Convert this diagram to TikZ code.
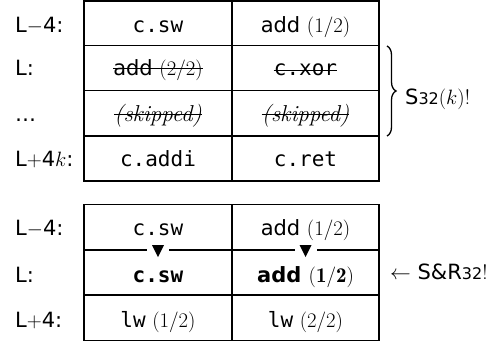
\documentclass[tikz,border=0pt]{standalone}
\usepackage{fontspec}
\newfontfamily\sansf{DejaVu Sans}
\setmonofont{DejaVu Sans Mono}
\usetikzlibrary{decorations.pathreplacing}
\newcommand\sz{\fontsize{21}{25}\selectfont}
\newcommand\smallnum[1]{{\fontsize{16}{20}\selectfont #1}}
\begin{document}
\begin{tikzpicture}[x=1pt,y=-1pt,
  grid/.style={line width=1.1pt},
  txt/.style={anchor=base, inner sep=0pt, font=\sz\sansf},
  code/.style={anchor=base, inner sep=0pt, font=\sz\ttfamily},
  skip/.style={anchor=base, inner sep=0pt, font=\fontsize{23}{27}\selectfont\rmfamily\itshape},
  lbl/.style={anchor=base west, inner sep=0pt, font=\sz\sansf},
  strk/.style={line width=1pt},
  gap/.style={fill=white, inner sep=0pt, minimum width=22pt, minimum height=3pt},
  bigbrace/.style={decorate, decoration={brace, amplitude=9pt}, line width=1.3pt}]
\useasboundingbox (0,0) rectangle (498,343);

% ---- table 1 ----
\draw[grid] (84,1) rectangle (379,181);
\draw[grid] (232,1) -- (232,181);
\draw[grid] (84,45.5) -- (379,45.5);
\draw[grid] (84,90.7) -- (379,90.7);
\draw[grid] (84,136) -- (379,136);

\node[lbl] (l1) at (15,32) {L$-$4:};
\node[lbl] (l2) at (15,75.5) {L:};
\node[lbl] (l3) at (15,121) {…};
\node[lbl] (l4) at (15,166) {L$+$4$k$:};

\node[code] (a1) at (158,32) {c.sw};
\node[txt]  (b1) at (305.5,32) {add $(1/2)$};
\node[txt]  (a2) at (158,75.5) {add $(2/2)$};
\node[code] (b2) at (305.5,75.5) {c.xor};
\node[skip] (a3) at (158,121) {(skipped)};
\node[skip] (b3) at (305.5,121) {(skipped)};
\node[code] (a4) at (158,166) {c.addi};
\node[code] (b4) at (305.5,166) {c.ret};

\draw[strk] ([yshift=7pt]a2.base west) -- ([yshift=7pt]a2.base east);
\draw[strk] ([yshift=5pt]b2.base west) -- ([yshift=5pt]b2.base east);
\draw[strk] ([yshift=6.5pt]a3.base west) -- ([yshift=6.5pt]a3.base east);
\draw[strk] ([yshift=6.5pt]b3.base west) -- ([yshift=6.5pt]b3.base east);

\coordinate (bt) at (387,46);
\coordinate (bb) at (387,136);
\draw[bigbrace] (bt) -- (bb);
\node[lbl] (s32) at (405,104) {S\smallnum{32}$(k)$\rmfamily !};

% ---- table 2 ----
\draw[grid] (84,204.3) rectangle (379,340.5);
\draw[grid] (232,204.3) -- (232,340.5);
\draw[grid] (84,250) -- (379,250);
\draw[grid] (84,295) -- (379,295);

\node[lbl] (m1) at (15,235.5) {L$-$4:};
\node[lbl] (m2) at (15,282) {L:};
\node[lbl] (m3) at (15,327) {L$+$4:};

\node[code] (c1) at (158,235.5) {c.sw};
\node[txt]  (d1) at (305.5,235.5) {add $(1/2)$};
\node[code] (c2) at (158,282) {\bfseries c.sw};
\node[txt]  (d2) at (305.5,282) {\bfseries add $\mathbf{(1/2)}$};
\node[txt]  (c3) at (158,327) {\ttfamily lw\sansf{} $(1/2)$};
\node[txt]  (d3) at (305.5,327) {\ttfamily lw\sansf{} $(2/2)$};

\node[gap] (t1) at (158,250) {};
\node[gap] (t2) at (305.5,250) {};
\fill ([shift={(-6,-5)}]t1.center) -- ([shift={(6,-5)}]t1.center) -- ([shift={(0,7)}]t1.center) -- cycle;
\fill ([shift={(-6,-5)}]t2.center) -- ([shift={(6,-5)}]t2.center) -- ([shift={(0,7)}]t2.center) -- cycle;

\node[lbl] (sr) at (390,279) {$\leftarrow$ S\&R\smallnum{32}\rmfamily !};
\end{tikzpicture}
\end{document}
